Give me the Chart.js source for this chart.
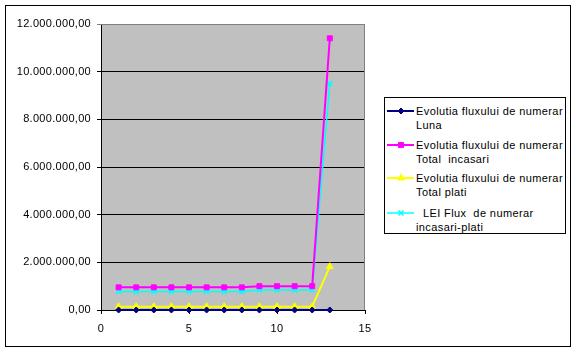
<!DOCTYPE html>
<html>
<head>
<meta charset="utf-8">
<script src="https://cdn.jsdelivr.net/npm/chart.js@4.4.1/dist/chart.umd.min.js"></script>
<style>
    body { margin: 0; background: #fff; font-family: "Liberation Sans", Arial, sans-serif; }
    #wrap { position: relative; width: 576px; height: 353px; overflow: hidden; }
    #chart { position: absolute; left: 0; top: 0; }
    #frame { position: absolute; left: 5px; top: 5px; width: 564px; height: 340px; border: 1px solid #000; pointer-events: none; }
    #legend { position: absolute; left: 384px; top: 97px; width: 180px; height: 135px; border: 1px solid #000; background: #fff; }
    .item { position: absolute; left: 0; width: 180px; height: 32px; }
    .item canvas { position: absolute; left: 1px; top: 0; }
    .item .txt { position: absolute; left: 31px; top: 0; font-size: 11px; line-height: 14px; letter-spacing: 0.4px; white-space: pre; color: #000; }
</style>
</head>
<body>
<div id="wrap">
    <canvas id="chart" width="576" height="353"></canvas>
    <div id="frame"></div>
    <div id="legend"></div>
</div>
<script>
// data
const months = [1, 2, 3, 4, 5, 6, 7, 8, 9, 10, 11, 12, 13];
const luna = [1, 2, 3, 4, 5, 6, 7, 8, 9, 10, 11, 12, 13];
const totalIncasari = [950000, 950000, 950000, 950000, 950000, 950000, 950000, 950000, 1000000, 1000000, 1000000, 1000000, 11400000];
const totalPlati = [140000, 140000, 140000, 140000, 140000, 140000, 140000, 140000, 140000, 140000, 140000, 140000, 1820000];
const fluxNet = [780000, 780000, 780000, 780000, 780000, 780000, 780000, 780000, 840000, 840000, 840000, 840000, 9500000];

const seriesNames = [
    "Evolutia fluxului de numerar\nLuna",
    "Evolutia fluxului de numerar\nTotal  incasari",
    "Evolutia fluxului de numerar\nTotal plati",
    "  LEI Flux  de numerar\nincasari-plati"
];
const seriesValues = [luna, totalIncasari, totalPlati, fluxNet];
const colors = ["#000080", "#FF00FF", "#FFFF00", "#00FFFF"];
const styles = ["rectRot", "rect", "triangle", "crossRot"];
const radii = [3, 3.5, 4, 3.5];
const widths = [2, 2, 2, 1.5];

function fmt(v) {
    const s = Math.round(v).toString().replace(/\B(?=(\d{3})+(?!\d))/g, ".");
    return s + ",00";
}

const datasets = seriesValues.map((vals, i) => ({
    label: seriesNames[i],
    data: months.map((m, j) => ({ x: m, y: vals[j] })),
    showLine: true,
    borderColor: colors[i],
    backgroundColor: colors[i],
    borderWidth: widths[i],
    pointStyle: styles[i],
    pointRadius: radii[i],
    pointBorderWidth: i === 3 ? 1.5 : 1,
    clip: false
}));

// gray plot area like excel
const plotArea = {
    id: "plotArea",
    beforeDraw(chart) {
        const a = chart.chartArea, ctx = chart.ctx;
        ctx.letterSpacing = "0.3px";
        ctx.save();
        ctx.fillStyle = "#C0C0C0";
        ctx.fillRect(a.left, a.top, a.right - a.left, a.bottom - a.top);
        ctx.restore();
    },
    beforeDatasetsDraw(chart) {
        const a = chart.chartArea, ctx = chart.ctx;
        ctx.save();
        ctx.strokeStyle = "#808080";
        ctx.lineWidth = 1;
        ctx.beginPath();
        ctx.moveTo(a.left, a.top + 0.5);
        ctx.lineTo(a.right - 0.5, a.top + 0.5);
        ctx.lineTo(a.right - 0.5, a.bottom);
        ctx.stroke();
        ctx.restore();
    }
};

Chart.defaults.font.family = "'Liberation Sans', Arial, sans-serif";
Chart.defaults.font.size = 11;
Chart.defaults.color = "#000";

new Chart(document.getElementById("chart"), {
    type: "scatter",
    data: { datasets: datasets },
    options: {
        responsive: false,
        animation: false,
        layout: { padding: { left: 0, top: 24, right: 211, bottom: 0 } },
        plugins: { legend: { display: false }, tooltip: { enabled: false } },
        scales: {
            x: {
                type: "linear",
                min: 0, max: 15,
                afterFit(scale) { scale.height = 43; },
                ticks: { stepSize: 5, padding: 8, maxRotation: 0 },
                grid: { drawOnChartArea: false, color: "#000", tickLength: 4 },
                border: { color: "#000", width: 1 }
            },
            y: {
                min: 0, max: 12000000,
                afterFit(scale) { scale.width = 101; },
                ticks: { stepSize: 2000000, padding: 6, callback: v => fmt(v) },
                grid: {
                    color: c => (c.tick && c.tick.value === 12000000) ? "#808080" : "#000",
                    tickLength: 4
                },
                border: { color: "#000", width: 1 }
            }
        }
    },
    plugins: [plotArea]
});

// legend with two line entries
const legend = document.getElementById("legend");
const tops = [6, 40, 73, 108];
seriesNames.forEach((name, i) => {
    const item = document.createElement("div");
    item.className = "item";
    item.style.top = tops[i] + "px";
    const c = document.createElement("canvas");
    c.width = 28; c.height = 14;
    const ctx = c.getContext("2d");
    ctx.strokeStyle = colors[i];
    ctx.lineWidth = widths[i];
    ctx.beginPath();
    ctx.moveTo(1, 7);
    ctx.lineTo(28, 7);
    ctx.stroke();
    ctx.fillStyle = colors[i];
    ctx.lineWidth = i === 3 ? 1.5 : 1;
    Chart.helpers.drawPoint(ctx, { pointStyle: styles[i], radius: radii[i], borderWidth: ctx.lineWidth }, 15, 7);
    item.appendChild(c);
    const t = document.createElement("div");
    t.className = "txt";
    t.textContent = name;
    item.appendChild(t);
    legend.appendChild(item);
});
</script>
</body>
</html>
